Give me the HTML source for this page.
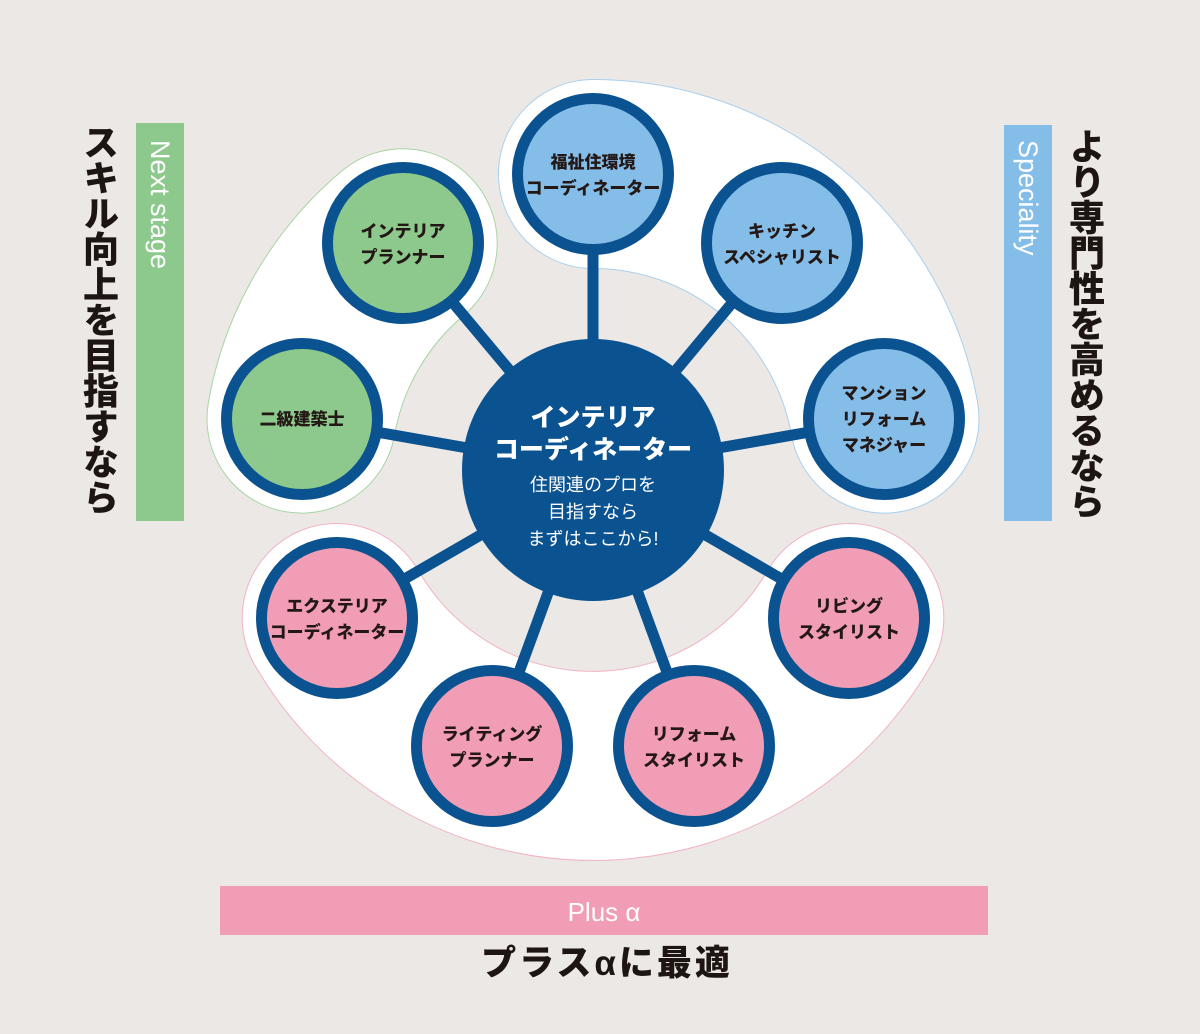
<!DOCTYPE html>
<html><head><meta charset="utf-8"><style>
html,body{margin:0;padding:0;background:#ece8e5;}
#w{position:relative;width:1200px;height:1034px;overflow:hidden;background:#ece8e5;font-family:"Liberation Sans","Noto Sans CJK JP",sans-serif;}
.v{position:absolute;writing-mode:vertical-rl;font-weight:900;font-size:36px;line-height:40px;color:#1d1512;letter-spacing:-0.5px;}
svg{position:absolute;left:0;top:0;}
</style></head><body><div id="w">
<svg width="1200" height="1034" viewBox="0 0 1200 1034" font-family="Liberation Sans, Noto Sans CJK JP, sans-serif">
<g fill="none" stroke-linecap="round">
<path d="M593,174 A296,296 0 0 1 884.5,418.6" stroke="#a9d0ee" stroke-width="190"/>
<path d="M593,174 A296,296 0 0 1 884.5,418.6" stroke="#fff" stroke-width="188"/>
<path d="M301.5,418.6 A296,296 0 0 1 402.7,243.3" stroke="#a8d5a4" stroke-width="190"/>
<path d="M301.5,418.6 A296,296 0 0 1 402.7,243.3" stroke="#fff" stroke-width="188"/>
<path d="M849.3,618 A296,296 0 0 1 336.7,618" stroke="#f2b2c4" stroke-width="190"/>
<path d="M849.3,618 A296,296 0 0 1 336.7,618" stroke="#fff" stroke-width="188"/>
</g>
<circle cx="593" cy="470" r="197" fill="#ece8e5"/>
<g stroke="#0a5290" stroke-width="11">
<line x1="593" y1="470" x2="593" y2="174"/>
<line x1="593" y1="470" x2="782" y2="243"/>
<line x1="593" y1="470" x2="884" y2="419"/>
<line x1="593" y1="470" x2="849" y2="618"/>
<line x1="593" y1="470" x2="694" y2="746"/>
<line x1="593" y1="470" x2="492" y2="746"/>
<line x1="593" y1="470" x2="337" y2="618"/>
<line x1="593" y1="470" x2="302" y2="419"/>
<line x1="593" y1="470" x2="403" y2="243"/>
</g>
<g stroke="#0a5290" stroke-width="11">
<circle cx="593" cy="174" r="75.5" fill="#85bde9"/>
<circle cx="782" cy="243" r="75.5" fill="#85bde9"/>
<circle cx="884" cy="419" r="75.5" fill="#85bde9"/>
<circle cx="849" cy="618" r="75.5" fill="#f19db5"/>
<circle cx="694" cy="746" r="75.5" fill="#f19db5"/>
<circle cx="492" cy="746" r="75.5" fill="#f19db5"/>
<circle cx="337" cy="618" r="75.5" fill="#f19db5"/>
<circle cx="302" cy="419" r="75.5" fill="#8dc98c"/>
<circle cx="403" cy="243" r="75.5" fill="#8dc98c"/>
</g>
<circle cx="593" cy="470" r="131" fill="#0a5290"/>
<g font-size="17" font-weight="900" fill="#231815" text-anchor="middle">
<text x="593" y="168">福祉住環境</text><text x="593" y="194">コーディネーター</text>
<text x="782" y="237">キッチン</text><text x="782" y="263">スペシャリスト</text>
<text x="884" y="399">マンション</text><text x="884" y="425">リフォーム</text><text x="884" y="451">マネジャー</text>
<text x="849" y="612">リビング</text><text x="849" y="638">スタイリスト</text>
<text x="694" y="740">リフォーム</text><text x="694" y="766">スタイリスト</text>
<text x="492" y="740">ライティング</text><text x="492" y="766">プランナー</text>
<text x="337" y="612">エクステリア</text><text x="337" y="638">コーディネーター</text>
<text x="302" y="425">二級建築士</text>
<text x="403" y="237">インテリア</text><text x="403" y="263">プランナー</text>
</g>
<g fill="#fff" text-anchor="middle">
<text x="593" y="426" font-size="25" font-weight="900">インテリア</text>
<text x="593" y="458" font-size="25" font-weight="900">コーディネーター</text>
<text x="593" y="491" font-size="18">住関連のプロを</text>
<text x="593" y="518" font-size="18">目指すなら</text>
<text x="593" y="545" font-size="18">まずはここから!</text>
</g>
<rect x="136" y="123" width="48" height="398" fill="#8dc98c"/>
<text transform="translate(151,140) rotate(90)" font-size="27" fill="#fff">Next stage</text>
<rect x="1004" y="125" width="48" height="396" fill="#85bde9"/>
<text transform="translate(1019,140) rotate(90)" font-size="27" fill="#fff">Speciality</text>
<rect x="220" y="886" width="768" height="49" fill="#f19db5"/>
<text x="604" y="921" font-size="26" fill="#fff" text-anchor="middle">Plus α</text>
<text x="607" y="975" font-size="35" font-weight="900" fill="#1d1512" text-anchor="middle" letter-spacing="3">プラスαに最適</text>
</svg>
<div class="v" style="left:78px;top:124px;">スキル向上を目指すなら</div>
<div class="v" style="left:1064px;top:128px;">より専門性を高めるなら</div>
</div></body></html>
